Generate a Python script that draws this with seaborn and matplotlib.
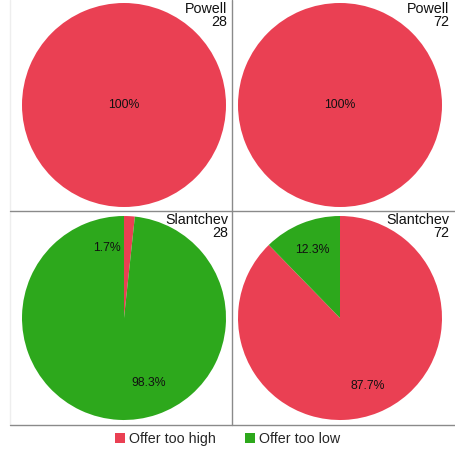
import matplotlib
matplotlib.use("Agg")
import matplotlib.pyplot as plt
from matplotlib.lines import Line2D
import seaborn as sns

# data
models = ["Powell", "Powell", "Slantchev", "Slantchev"]
rounds = ["28", "72", "28", "72"]
categories = ["Offer too high", "Offer too low"]
too_high = [100.0, 100.0, 1.7, 87.7]
too_low = [0.0, 0.0, 98.3, 12.3]

sns.set_theme(style="white")
plt.rcParams["font.family"] = ["Liberation Sans", "DejaVu Sans"]
colors = sns.color_palette(["#EA4053", "#2DA81C"])

W, H = 455, 450
fig = plt.figure(figsize=(W / 100, H / 100), dpi=100)

# pie boxes in pixels: left, top, size
boxes = [(22, 3, 204), (238, 3, 204), (22, 216, 204), (238, 216, 204)]
title_pos = [(227, 2), (449, 2), (228, 213), (449, 213)]

wedges_for_legend = None
for i, (x0, y0, s) in enumerate(boxes):
    ax = fig.add_axes([x0 / W, 1 - (y0 + s) / H, s / W, s / H])
    vals = [too_high[i], too_low[i]]
    keep = [j for j, v in enumerate(vals) if v > 0]
    wedges, texts, autotexts = ax.pie(
        [vals[j] for j in keep],
        colors=[colors[j] for j in keep],
        startangle=90, counterclock=False,
        autopct=lambda p: "100%" if p > 99.95 else "%.1f%%" % p,
        pctdistance=0.0 if len(keep) == 1 else 0.72,
        wedgeprops=dict(linewidth=0),
        textprops=dict(fontsize=8.8, color="#111111"),
    )
    if i == 2:
        # small slice: labels get moved aside
        autotexts[0].set_position((-0.17, 0.69))
        autotexts[1].set_position((0.245, -0.64))
    ax.set_xlim(-1, 1)
    ax.set_ylim(-1, 1)
    ax.set_aspect("equal")
    ax.axis("off")
    if i == 2:
        wedges_for_legend = wedges
    tx, ty = title_pos[i]
    fig.text(tx / W, 1 - ty / H, models[i] + "\n" + rounds[i],
             ha="right", va="top", fontsize=10.3, linespacing=0.95,
             color="#111111")

# panel separators
def fline(x1, y1, x2, y2, color="#8a8a8a", lw=1.0):
    fig.add_artist(Line2D([x1 / W, x2 / W], [1 - y1 / H, 1 - y2 / H],
                          transform=fig.transFigure, color=color, lw=lw))

fline(10, 0, 10, 425, color="#eeeeee")
fline(232, 0, 232, 425)
fline(10, 211, 455, 211)
fline(10, 425, 455, 425)

fig.legend(wedges_for_legend, categories, loc="center",
           bbox_to_anchor=(0.5, 1 - 439 / H), ncol=2, frameon=False,
           fontsize=10.3, handlelength=0.7, handleheight=0.7,
           handletextpad=0.3, columnspacing=2.0, borderpad=0)

fig.savefig("out.png", dpi=100)
